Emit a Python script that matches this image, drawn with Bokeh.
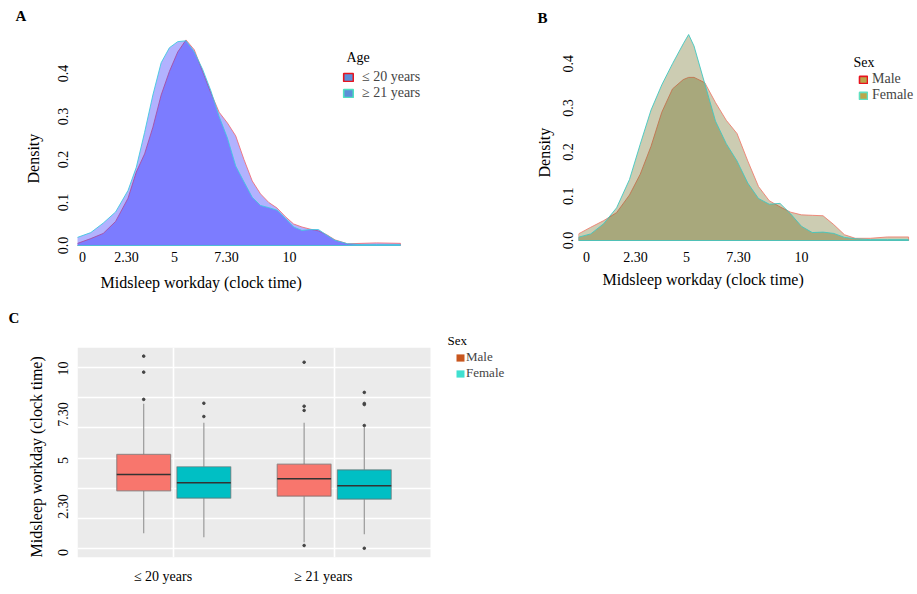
import math
import numpy as np
from bokeh.plotting import figure
from bokeh.models import Range1d, FixedTicker, Label, Legend, LegendItem, Title, BoxAnnotation
from bokeh.layouts import column, row
from bokeh.embed import file_html
from bokeh.resources import INLINE

FONT = "Liberation Serif"

# ---------------- data ----------------
# Panel A: density of midsleep on workdays by age group
a_hours = [-0.29, 0.4, 1.0, 1.6, 2.2, 2.6, 3.0, 3.4, 3.8, 4.2, 4.6, 5.0, 5.4, 5.8, 6.2, 6.6,
           7.0, 7.4, 7.8, 8.2, 8.6, 9.0, 9.4, 9.8, 10.2, 10.6, 11.0, 11.4, 11.8, 12.2, 12.8,
           13.5, 14.2, 15.36]
a_le20 = [0.004, 0.016, 0.028, 0.056, 0.110, 0.171, 0.213, 0.275, 0.350, 0.405, 0.450, 0.478,
          0.455, 0.405, 0.355, 0.310, 0.285, 0.255, 0.200, 0.150, 0.120, 0.100, 0.087, 0.067,
          0.050, 0.043, 0.038, 0.034, 0.025, 0.013, 0.004, 0.005, 0.006, 0.005]
a_ge21 = [0.018, 0.030, 0.052, 0.078, 0.128, 0.182, 0.263, 0.350, 0.425, 0.460, 0.474, 0.476,
          0.450, 0.410, 0.360, 0.300, 0.250, 0.185, 0.148, 0.112, 0.093, 0.088, 0.082, 0.063,
          0.043, 0.035, 0.037, 0.037, 0.024, 0.012, 0.004, 0.002, 0.002, 0.002]
age_labels = ["\u2264 20 years", "\u2265 21 years"]

# Panel B: density by sex
b_hours = [-0.37, 0.2, 0.8, 1.4, 2.0, 2.5, 3.0, 3.5, 4.0, 4.5, 4.75, 5.0, 5.5, 6.0, 6.5, 7.0,
           7.5, 8.0, 8.5, 9.0, 9.5, 10.0, 10.5, 11.0, 11.5, 12.0, 12.5, 13.2, 14.0, 14.98]
b_male = [0.015, 0.030, 0.045, 0.063, 0.103, 0.150, 0.213, 0.290, 0.343, 0.364, 0.369, 0.369,
          0.357, 0.312, 0.272, 0.242, 0.180, 0.122, 0.090, 0.076, 0.064, 0.058, 0.057, 0.056,
          0.036, 0.013, 0.005, 0.005, 0.008, 0.008]
b_female = [0.0075, 0.015, 0.038, 0.074, 0.138, 0.218, 0.295, 0.352, 0.400, 0.445, 0.466, 0.440,
            0.355, 0.270, 0.219, 0.180, 0.130, 0.095, 0.082, 0.084, 0.060, 0.032, 0.018, 0.019,
            0.016, 0.007, 0.004, 0.002, 0.002, 0.002]
sex_labels = ["Male", "Female"]

# clock-time tick labels
clock_labels = ["0", "2.30", "5", "7.30", "10"]
a_tick_at = [0, 2.13, 4.44, 6.96, 10]
b_tick_at = [0, 2.28, 4.65, 7.07, 10]
density_ticks = [0.0, 0.1, 0.2, 0.3, 0.4]
density_labels = ["0.0", "0.1", "0.2", "0.3", "0.4"]

# Panel C: box plots (order: <=20 Male, <=20 Female, >=21 Male, >=21 Female)
c_group_idx = [0, 0, 1, 1]
c_sex = ["Male", "Female", "Male", "Female"]
c_low = [1.05, 0.83, 0.56, 0.99]
c_q1 = [3.35, 2.95, 3.06, 2.90]
c_med = [4.24, 3.79, 4.01, 3.63]
c_q3 = [5.33, 4.66, 4.80, 4.49]
c_high = [8.08, 7.05, 7.05, 6.80]
c_outliers = [[10.67, 9.80, 8.32],
              [8.11, 7.39],
              [10.34, 7.95, 7.72, 0.38],
              [8.70, 8.10, 8.04, 6.90, 0.23]]
c_y_ticks = [0, 2.5, 5, 7.5, 10]
c_label_at = [0.933, 1.933]


# ---------------- helpers ----------------
def style_axes(p, size="14px"):
    for ax in p.axis:
        ax.axis_line_color = None
        ax.major_tick_line_color = None
        ax.minor_tick_line_color = None
        ax.major_tick_out = 0
        ax.major_tick_in = 0
        ax.minor_tick_out = 0
        ax.minor_tick_in = 0
        ax.major_label_text_font = FONT
        ax.major_label_text_font_size = size
        ax.major_label_text_color = "black"


def add_title(p, place, text, offset, standoff, size="16px", bold=False):
    p.add_layout(Title(text=text, align="left", offset=offset, standoff=standoff,
                       text_font=FONT, text_font_size=size, text_color="black",
                       text_font_style="bold" if bold else "normal"), place)


def add_label(p, x, y, text, size="14px"):
    p.add_layout(Label(x=x, y=y, x_units="screen", y_units="screen", text=text,
                       text_font=FONT, text_font_size=size, text_align="left",
                       text_baseline="middle", text_color="black"))


def legend_keys(p, fills, lines, width=1.6):
    rs = []
    for fc, lc in zip(fills, lines):
        rs.append(p.quad(left=[np.nan], right=[np.nan], top=[np.nan], bottom=[np.nan],
                         fill_color=fc, line_color=lc, line_width=width))
    return rs


def make_legend(p, labels, renderers, loc, gw, gh, standoff, size):
    items = [LegendItem(label=lab, renderers=[r]) for lab, r in zip(labels, renderers)]
    leg = Legend(items=items, location=loc, orientation="vertical", padding=0, margin=0,
                 spacing=0, glyph_width=gw, glyph_height=gh, label_height=12,
                 label_standoff=standoff, label_text_font=FONT, label_text_font_size=size,
                 border_line_color=None, background_fill_alpha=0)
    p.add_layout(leg, "center")


def density_panel(width, xr, yr, mb_left, mb_right):
    p = figure(width=width, height=300, x_range=xr, y_range=yr, output_backend="svg",
               toolbar_location=None, min_border_left=mb_left, min_border_right=mb_right,
               min_border_top=25, min_border_bottom=50, title=None)
    p.outline_line_color = None
    p.grid.visible = False
    p.background_fill_color = "white"
    p.border_fill_color = "white"
    style_axes(p)
    p.yaxis.ticker = FixedTicker(ticks=density_ticks)
    p.yaxis.major_label_overrides = dict(zip(density_ticks, density_labels))
    p.yaxis.major_label_orientation = "vertical"
    p.xaxis.major_label_standoff = 1
    return p


def closed(xs, ys):
    return list(xs) + [xs[-1], xs[0]], list(ys) + [0, 0]


# ---------------- Panel A ----------------
pA = density_panel(460, Range1d(-0.2415, 16.57), Range1d(-0.01163, 0.5116), 77, 35)
for ys, lc in [(a_le20, "#F0707A"), (a_ge21, "#40C8E0")]:
    px, py = closed(a_hours, ys)
    pA.patch(px, py, fill_color="blue", fill_alpha=0.3, line_color=lc, line_width=1, line_alpha=0.9)
pA.xaxis.ticker = FixedTicker(ticks=a_tick_at)
pA.xaxis.major_label_overrides = dict(zip(a_tick_at, clock_labels))
pA.yaxis.major_label_standoff = 9
add_title(pA, "below", "Midsleep workday (clock time)", 23, 14)
add_title(pA, "left", "Density", 67, 28)
add_title(pA, "above", "A", -62, 4, size="15px", bold=True)
add_label(pA, 269, 193, "Age")
make_legend(pA, age_labels, legend_keys(pA, ["#5B8FD8", "#5B8FD8"], ["#E8141E", "#4EE0C0"]),
            (265, 149), 12, 10, 8, "14px")

# ---------------- Panel B ----------------
pB = density_panel(457, Range1d(-0.372, 15.395), Range1d(-0.0226, 0.4864), 118, 0)
for ys, lc in [(b_male, "#F08070"), (b_female, "#40C8C0")]:
    px, py = closed(b_hours, ys)
    pB.patch(px, py, fill_color="#555500", fill_alpha=0.3, line_color=lc, line_width=1, line_alpha=0.9)
pB.xaxis.ticker = FixedTicker(ticks=b_tick_at)
pB.xaxis.major_label_overrides = dict(zip(b_tick_at, clock_labels))
pB.yaxis.major_label_standoff = 5
add_title(pB, "below", "Midsleep workday (clock time)", 24, 8)
add_title(pB, "left", "Density", 73, 16)
add_title(pB, "above", "B", -41, 0, size="15px", bold=True)
add_label(pB, 275, 188, "Sex")
make_legend(pB, sex_labels, legend_keys(pB, ["#BBA64A", "#BBA64A"], ["#E8141E", "#60E0C0"]),
            (280, 147), 10, 9, 4, "14px")

# ---------------- Panel C ----------------
c_x_lo, c_x_hi = 0.4, 2.6          # ggplot panel extent for two groups
pC = figure(width=917, height=294, x_range=Range1d(c_x_lo, 3.161), y_range=Range1d(-0.272, 11.14),
            output_backend="svg", toolbar_location=None, min_border_left=77, min_border_right=397,
            min_border_top=47, min_border_bottom=37, title=None)
pC.outline_line_color = None
pC.background_fill_color = "white"
pC.border_fill_color = "white"
pC.add_layout(BoxAnnotation(left=c_x_lo, right=c_x_hi, fill_color="#EBEBEB", fill_alpha=1,
                            line_color=None, level="image"))
style_axes(pC)
pC.xgrid.ticker = FixedTicker(ticks=[1, 2])
pC.ygrid.ticker = FixedTicker(ticks=list(np.linspace(0.22, 10.05, 7)))
pC.grid.grid_line_color = "white"
pC.grid.grid_line_width = 1.6
pC.yaxis.ticker = FixedTicker(ticks=c_y_ticks)
pC.yaxis.major_label_overrides = dict(zip(c_y_ticks, clock_labels))
pC.yaxis.major_label_orientation = "vertical"
pC.yaxis.major_label_standoff = 9
pC.xaxis.ticker = FixedTicker(ticks=c_label_at)
pC.xaxis.major_label_overrides = dict(zip(c_label_at, age_labels))
pC.xaxis.major_label_standoff = 11

dodge = 0.375 / 2
box_w = 0.336
box_fill = {"Male": "#F8766D", "Female": "#00BFC4"}
bx = [g + 1 + (-dodge if s == "Male" else dodge) for g, s in zip(c_group_idx, c_sex)]
pC.segment(x0=bx, y0=c_q3, x1=bx, y1=c_high, line_color="#9a9a9a", line_width=1.2)
pC.segment(x0=bx, y0=c_q1, x1=bx, y1=c_low, line_color="#9a9a9a", line_width=1.2)
pC.quad(left=[x - box_w / 2 for x in bx], right=[x + box_w / 2 for x in bx], bottom=c_q1, top=c_q3,
        fill_color=[box_fill[s] for s in c_sex], line_color="#6a6a6a", line_alpha=0.6, line_width=1.2)
pC.segment(x0=[x - box_w / 2 for x in bx], y0=c_med, x1=[x + box_w / 2 for x in bx], y1=c_med,
           line_color="#333333", line_width=1.6)
ox, oy = [], []
for x, outs in zip(bx, c_outliers):
    ox += [x] * len(outs)
    oy += outs
pC.scatter(ox, oy, size=2.6, color="#444444")

add_title(pC, "left", "Midsleep workday (clock time)", 0, 22)
add_title(pC, "above", "Sex", 370, 0, size="13px")
add_title(pC, "above", "C", -69, 9, size="15px", bold=True)
make_legend(pC, sex_labels, legend_keys(pC, ["#C8561E", "#40E0D0"], [None, None]),
            (378, 176), 10, 9, 1, "13px")

layout = column(row(pA, pB), pC)
open("out.html", "w").write(file_html(layout, INLINE))
